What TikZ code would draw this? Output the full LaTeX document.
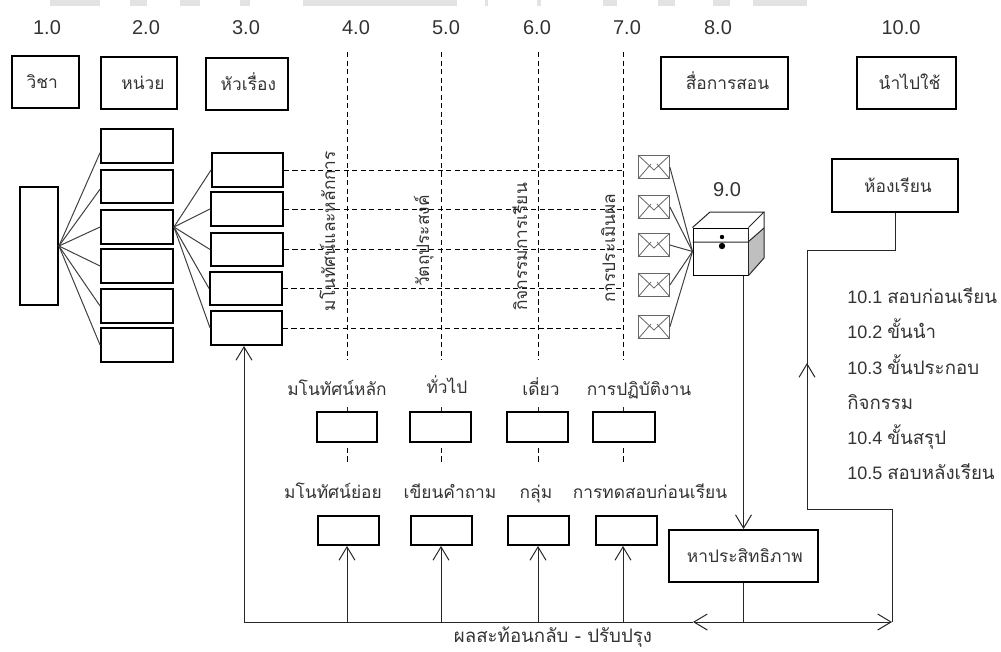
\documentclass[tikz,border=0pt]{standalone}
\usepackage{fontspec}
\setmainfont{Liberation Sans}
\newfontfamily\thaifont[Script=Thai]{Loma}
\usetikzlibrary{arrows.meta,calc}
\tikzset{
  hdr/.style={draw=black,line width=1.4pt,inner sep=0pt,text height=12pt,text depth=2pt,font=\thaifont\fontsize{13}{15}\selectfont,text=black!80},
  cell/.style={draw=black,line width=1.4pt,inner sep=0pt,fill=white},
  num/.style={font=\fontsize{15}{17}\selectfont,text=black!80,inner sep=0pt},
  lab/.style={font=\thaifont\fontsize{13}{15}\selectfont,text=black!80,inner sep=0pt,anchor=base},
  vlab/.style={lab,rotate=90,anchor=base},
  listlab/.style={font=\fontsize{13.5}{15}\selectfont,text=black!80,inner sep=0pt,anchor=base west},
  thin/.style={line width=0.75pt,draw=black!85},
  fan/.style={line width=0.75pt,draw=black!75},
  arr/.style={line width=0.75pt,draw=black!85,-{Straight Barb[length=10pt,width=12pt,line width=0.75pt]}},
  dsh/.style={line width=0.7pt,draw=black,dash pattern=on 3.8pt off 2.6pt},
  env/.style={draw=black!60,line width=0.75pt,inner sep=0pt,minimum width=23pt,minimum height=17pt},
  wm/.style={fill=black!11,draw=none},
}
\newcommand{\bx}[7][cell]{\node[#1,minimum width={(#5-#3)*0.75pt},minimum height={(#6-#4)*0.75pt}] (#2) at ({(#3+#5)/2},{(#4+#6)/2}) {#7};}
\newcommand{\envl}[3]{\node[env] (#1) at (#2,#3) {};
  \draw[draw=black!60,line width=0.6pt] (#1.north west) -- ($(#1.center)+(0,3)$) -- (#1.north east) (#1.south west) -- ($(#1.center)+(-3,-3)$) ($(#1.center)+(3,-3)$) -- (#1.south east);}
\newcommand{\tl}[1]{{\thaifont\fontsize{14}{15}\selectfont #1}}
\begin{document}
\begin{tikzpicture}[x=0.75pt,y=-0.75pt]
\useasboundingbox (0,0) rectangle (1001,651);
% faint band at the top edge
\foreach \a/\b in {50/100,130/147,180/200,240/250,303/457,485/488,537/541,603/617,658/675,713/730,753/807}{
  \fill[wm] (\a,0) rectangle (\b,6);
}
% numbers
\node[num] (n1) at (47,28) {1.0};
\node[num] (n2) at (146,28) {2.0};
\node[num] (n3) at (246,28) {3.0};
\node[num] (n4) at (356,28) {4.0};
\node[num] (n5) at (446,28) {5.0};
\node[num] (n6) at (537,28) {6.0};
\node[num] (n7) at (627,28) {7.0};
\node[num] (n8) at (718,28) {8.0};
\node[num] (n10) at (901,28) {10.0};
\node[num] (n9) at (727,190) {9.0};
% headers
\bx[hdr]{h1}{12}{56}{79}{108}{วิชา\hspace*{5pt}}
\bx[hdr]{h2}{101}{57}{177}{109}{\hspace*{6pt}หน่วย}
\bx[hdr]{h3}{206}{58}{288}{110}{\hspace*{2pt}หัวเรื่อง}
\bx[hdr]{h8}{661}{57}{788}{109}{\hspace*{4.5pt}สื่อการสอน}
\bx[hdr]{h10}{857}{57}{956}{109}{\hspace*{4.5pt}นำไปใช้}
\bx[hdr]{room}{832}{159}{958}{212}{\hspace*{4.5pt}ห้องเรียน}
\bx[hdr]{eff}{669}{530}{818}{582}{\hspace*{2pt}หาประสิทธิภาพ}
% vertical dashed
\coordinate (v4t) at (347,52); \coordinate (v4b) at (347,360);
\coordinate (v5t) at (441,52); \coordinate (v5b) at (441,360);
\coordinate (v6t) at (538,52); \coordinate (v6b) at (538,360);
\coordinate (v7t) at (623,52); \coordinate (v7b) at (623,360);
\foreach \c in {4,5,6,7}{\draw[dsh] (v\c t) -- (v\c b);}
% boxes
\bx{big}{20}{187}{58}{305}{}
\bx{u1}{101}{129}{173}{163}{}
\bx{u2}{101}{170}{173}{203}{}
\bx{u3}{101}{210}{173}{244}{}
\bx{u4}{101}{249}{173}{283}{}
\bx{u5}{101}{289}{173}{323}{}
\bx{u6}{101}{328}{173}{362}{}
\bx{t1}{212}{153}{283}{187}{}
\bx{t2}{211}{192}{283}{226}{}
\bx{t3}{211}{233}{283}{266}{}
\bx{t4}{210}{272}{282}{305}{}
\bx{t5}{211}{311}{282}{345}{}
% fans
\draw[fan] (big.east) -- ([yshift=-5pt]u1.west);
\draw[fan] (big.east) -- ([yshift=-2pt]u2.west);
\foreach \i in {3,4,5,6}{\draw[fan] (big.east) -- (u\i.west);}
\foreach \i in {1,...,5}{\draw[fan] (u3.east) -- (t\i.west);}
% horizontal dashed
\foreach \i in {1,...,5}{\draw[dsh] (t\i.east) -- (t\i.east -| v7t);}
% vertical labels
\node[vlab] (l4) at (335,231) {มโนทัศน์และหลักการ};
\node[vlab] (l5) at (429,241) {วัตถุประสงค์};
\node[vlab] (l6) at (527,247) {กิจกรรมการเรียน};
\node[vlab] (l7) at (615,248) {การประเมินผล};
% lower boxes
\bx{a1}{317}{412}{377}{442}{}
\bx{a2}{410}{412}{471}{442}{}
\bx{a3}{507}{412}{568}{442}{}
\bx{a4}{593}{412}{655}{442}{}
\bx{b1}{318}{516}{379}{545}{}
\bx{b2}{411}{516}{472}{545}{}
\bx{b3}{508}{516}{569}{545}{}
\bx{b4}{596}{516}{657}{545}{}
\node[lab] (la1) at (337,395) {มโนทัศน์หลัก};
\node[lab] (la2) at (447,393) {ทั่วไป};
\node[lab] (la3) at (541,395) {เดี่ยว};
\node[lab] (la4) at (639,395) {การปฏิบัติงาน};
\node[lab] (lb1) at (333,498) {มโนทัศน์ย่อย};
\node[lab] (lb2) at (450,498) {เขียนคำถาม};
\node[lab] (lb3) at (536,498) {กลุ่ม};
\node[lab] (lb4) at (650,498) {การทดสอบก่อนเรียน};
\node[lab,font=\thaifont\fontsize{14}{15}\selectfont] (fbt) at (553,642) {ผลสะท้อนกลับ - ปรับปรุง};
% dashed stubs between rows
\foreach \c/\k in {4/a1,5/a2,6/a3,7/a4}{
  \draw[dsh] (v\c t |- \k.south) ++(0,5) -- ++(0,14);
  \draw[thin] (v\c t |- \k.north) -- ++(0,-4);
}
% envelopes
\envl{e1}{654}{167}
\envl{e2}{654}{207}
\envl{e3}{654}{245}
\envl{e4}{654}{285}
\envl{e5}{654}{327}
% chest
\fill[black!25] (748,242) -- (764,228) -- (764,258) -- (748,275) -- cycle;
\node[draw=black,line width=0.75pt,inner sep=0pt,minimum width=41.25pt,minimum height=35.25pt] (chest) at (720.5,251.5) {};
\draw[thin] (chest.north west) -- (710,212) -- (764,212) -- (chest.north east);
\draw[thin] (764,212) -- (764,258) -- (chest.south east);
\draw[thin] (chest.north east) -- (chest.south east);
\draw[thin] (chest.west |- 242,242) -- (748,242) -- (764,228);
\fill (722,237) circle[radius=2.2];
\fill (722,246) circle[radius=3.2];
\draw[fan] (e1.east) -- (chest.west);
\draw[fan] (e2.east) -- (chest.west);
\draw[fan] (e3.east) -- (chest.west);
\draw[fan] (e4.east) -- (chest.west);
\draw[fan] (e5.east) -- (chest.west);
% connectors
\draw[arr] (eff.north |- chest.south) -- (eff.north);
\coordinate (jn) at (eff.south |- 0,622);
\coordinate (fl) at (244,622);
\coordinate (fm) at (693,622);
\coordinate (fr) at (892,622);
\coordinate (r1) at (892,509);
\coordinate (r2) at (807,509);
\coordinate (r3) at (807,363);
\coordinate (r4) at (807,250);
\coordinate (r5) at (room.south |- 0,250);
\draw[thin] (eff.south) -- (jn);
\draw[arr] (jn) -- (fm);
\draw[thin] (fm) -- (fl);
\draw[arr] (jn) -- (fr);
\draw[thin] (fr) -- (r1) -- (r2) -- (r3);
\draw[arr] (r2) -- (r3);
\draw[thin] (r3) -- (r4) -- (r5) -- (room.south);
\draw[arr] (fl) -- (t5.south -| fl);
\foreach \k/\c in {1/4,2/5,3/6,4/7}{\draw[arr] (v\c t |- fl) -- (v\c t |- b\k.south);}
% list
\node[listlab] (i1) at (847,303) {10.1 \tl{สอบก่อนเรียน}};
\node[listlab] (i2) at (847,338) {10.2 \tl{ขั้นนำ}};
\node[listlab] (i3) at (847,374) {10.3 \tl{ขั้นประกอบ}};
\node[listlab] (i3b) at (847,409) {\tl{กิจกรรม}};
\node[listlab] (i4) at (847,444) {10.4 \tl{ขั้นสรุป}};
\node[listlab] (i5) at (847,479) {10.5 \tl{สอบหลังเรียน}};
\end{tikzpicture}
\end{document}
